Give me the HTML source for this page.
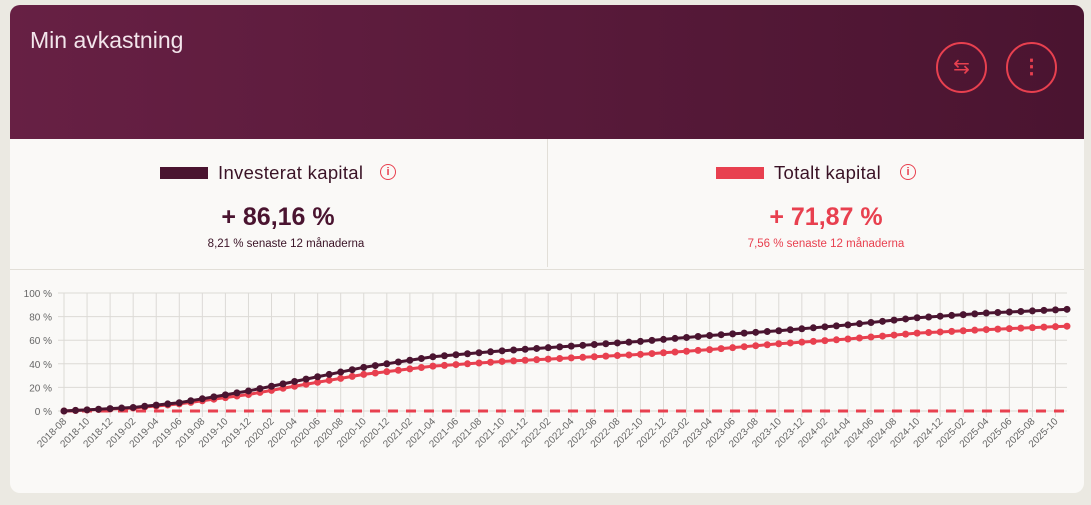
<!DOCTYPE html>
<html><head><meta charset="utf-8"><style>
body{margin:0;width:1091px;height:505px;background:#ebe9e2;font-family:"Liberation Sans",sans-serif;position:relative;overflow:hidden}
.card{position:absolute;left:10px;top:5px;width:1074px;height:488px;background:#faf9f7;border-radius:10px;overflow:hidden}
.hdr{position:absolute;left:0;top:0;width:1074px;height:134px;background:linear-gradient(90deg,#672044,#4a1430)}
.title{position:absolute;left:20px;top:22px;color:#f3e6ec;font-size:23px}
.btn{position:absolute;top:37px;width:47px;height:47px;border:2px solid #e8404f;border-radius:50%;color:#e8404f;text-align:center;line-height:47px;font-size:20px}
.leg{position:absolute;font-size:18.5px;color:#3a1326;letter-spacing:0.3px}
.sw{position:absolute;width:48px;height:12px}
.big{position:absolute;font-size:25px;font-weight:bold;width:400px;text-align:center}
.sm{position:absolute;font-size:11.5px;width:400px;text-align:center}
.info{position:absolute;width:14px;height:14px;border:1.5px solid #e8404f;border-radius:50%;color:#e8404f;font-size:11px;text-align:center;line-height:14px;font-weight:bold}
</style></head><body>
<div class="card">
<div class="hdr"><div class="title">Min avkastning</div>
<div class="btn" style="left:926px">⇆</div>
<div class="btn" style="left:996px;font-weight:bold">⋮</div></div>
<div class="sw" style="left:150px;top:162px;background:#4a1430"></div>
<div class="leg" style="left:208px;top:157px">Investerat kapital</div>
<div class="info" style="left:370px;top:159px">i</div>
<div class="big" style="left:68px;top:198px;color:#4a1430">+ 86,16 %</div>
<div class="sm" style="left:76px;top:233px;color:#3a1326">8,21 % senaste 12 månaderna</div>
<div style="position:absolute;left:537px;top:134px;width:1px;height:128px;background:#e2dfd8"></div>
<div class="sw" style="left:706px;top:162px;background:#e8404f"></div>
<div class="leg" style="left:764px;top:157px">Totalt kapital</div>
<div class="info" style="left:890px;top:159px">i</div>
<div class="big" style="left:616px;top:198px;color:#e8404f">+ 71,87 %</div>
<div class="sm" style="left:616px;top:233px;color:#e8404f">7,56 % senaste 12 månaderna</div>
<div style="position:absolute;left:0;top:264px;width:1074px;height:1px;background:#e2dfd8"></div>
</div>
<svg id="c" width="1091" height="505" style="position:absolute;left:0;top:0"></svg>
<script>
var s='',x0=64,x1=1067,n=87,st=(x1-x0)/n,y0=411,k=1.18;
function Y(v){return y0-v*k}
for(var v=0;v<=100;v+=20){s+='<line x1="58" x2="1067" y1="'+Y(v)+'" y2="'+Y(v)+'" stroke="#dcdad6"/>';
s+='<text x="52" y="'+(Y(v)+4)+'" font-size="10" fill="#666" text-anchor="end" font-family="Liberation Sans">'+v+' %</text>';}
for(var i=0;i<n;i+=2){var x=x0+i*st;s+='<line x1="'+x+'" x2="'+x+'" y1="293" y2="417" stroke="#dcdad6"/>';
var m=7+i,yr=2018+Math.floor(m/12),mo=m%12+1;var lab=yr+'-'+(mo<10?'0':'')+mo;
s+='<text transform="translate('+(x+3)+',422) rotate(-45)" font-size="10" fill="#666" text-anchor="end" font-family="Liberation Sans">'+lab+'</text>';}
s+='<line x1="64" x2="1067" y1="411" y2="411" stroke="#e8404f" stroke-width="3" stroke-dasharray="10,8"/>';
var kd=[[0,0],[6,3],[10,7],[16,17],[20,25],[26,37],[32,46],[38,51],[44,55],[50,59],[56,64],[62,68],[68,73],[74,79],[80,83],[87,86.16]];
var kr=[[0,0],[6,2.5],[10,6],[16,14],[20,21],[26,31],[32,38],[38,42],[44,45],[50,48],[56,52],[62,57],[68,61],[74,66],[80,69],[87,71.87]];
function f(kk,i){for(var j=1;j<kk.length;j++)if(i<=kk[j][0]){var a=kk[j-1],b=kk[j];return a[1]+(b[1]-a[1])*(i-a[0])/(b[0]-a[0]);}}
[[kr,'#e8404f'],[kd,'#4a1430']].forEach(function(p){var pts='',c='';for(var i=0;i<=n;i++){var x=x0+i*st,y=Y(f(p[0],i));pts+=x+','+y+' ';c+='<circle cx="'+x+'" cy="'+y+'" r="3.5" fill="'+p[1]+'"/>';}
s+='<polyline points="'+pts+'" fill="none" stroke="'+p[1]+'" stroke-width="3"/>'+c;});
document.getElementById('c').innerHTML=s;
</script>
</body></html>
